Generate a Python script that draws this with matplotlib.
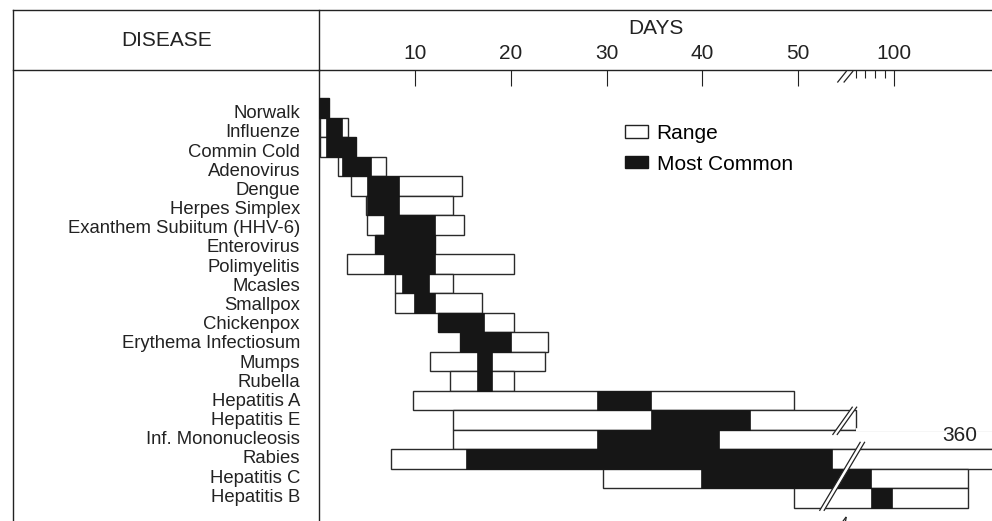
import numpy as np
import matplotlib
matplotlib.use("Agg")
import matplotlib.pyplot as plt
from matplotlib.patches import Patch, Polygon
from matplotlib.lines import Line2D

plt.rcParams['font.family'] = ['Liberation Sans', 'DejaVu Sans']

# ---------------- data (days) ----------------
diseases = ["Norwalk", "Influenze", "Commin Cold", "Adenovirus", "Dengue",
            "Herpes Simplex", "Exanthem Subiitum (HHV-6)", "Enterovirus",
            "Polimyelitis", "Mcasles", "Smallpox", "Chickenpox",
            "Erythema Infectiosum", "Mumps", "Rubella", "Hepatitis A",
            "Hepatitis E", "Inf. Mononucleosis", "Rabies", "Hepatitis C",
            "Hepatitis B"]
range_start = [0.0, 0.1, 0.1, 1.9, 3.3, 4.9, 5.0, 5.8, 2.9, 7.9, 7.9, 12.4,
               14.7, 11.55, 13.6, 9.8, 14.0, 14.0, 7.45, 29.6, 49.5]
range_end = [1.0, 3.0, 3.8, 7.0, 14.9, 14.0, 15.1, 12.1, 20.35, 14.0, 17.0,
             20.35, 23.9, 23.6, 20.35, 49.5, 60.0, 360.0, 360.0, 177.5, 177.5]
common_start = [0.0, 0.75, 0.75, 2.4, 5.0, 5.0, 6.75, 5.8, 6.75, 8.6, 9.9,
                12.4, 14.7, 16.5, 16.5, 29.0, 34.6, 29.0, 15.3, 39.8, 75.6]
common_end = [1.0, 2.4, 3.8, 5.4, 8.3, 8.3, 12.1, 12.1, 12.1, 11.45, 12.1,
              17.2, 20.0, 18.0, 18.0, 34.6, 45.0, 41.75, 53.5, 75.6, 97.5]
major_ticks = [10, 20, 30, 40, 50, 100]
minor_ticks = [60, 70, 80, 90]
rabies_max_label = "360"
break_day = 54.9

# ---------------- broken axis scale ----------------
def fwd(d):
    d = np.asarray(d, dtype=float)
    return np.where(d <= 55, d, 50 + d / 10.0)

def inv(u):
    u = np.asarray(u, dtype=float)
    return np.where(u <= 55, u, np.where(u < 55.5, 55.0, (u - 50) * 10.0))

W, H = 992, 521
fig = plt.figure(figsize=(W / 100, H / 100), dpi=100)

def fx(x):
    return x / W

def fy(y):
    return 1 - y / H

ax_left, ax_top = 319.3, 70
ax = fig.add_axes([fx(ax_left), 0, 1 - fx(ax_left), fy(ax_top)])
ax.set_xscale('function', functions=(fwd, inv))
xmax_day = 202.2
ax.set_xlim(0, xmax_day)
ax.set_ylim(21.18, -1.936)

fill_black = '#161616'
edge = '#2a2a2a'
y = np.arange(len(diseases))
rs, re_ = np.array(range_start), np.array(range_end)
cs, ce = np.array(common_start), np.array(common_end)
ax.barh(y, re_ - rs, left=rs, height=1.0, color='white', edgecolor=edge,
        linewidth=1.0, zorder=2)
# Inf. Mononucleosis box is left open above, past the Hepatitis E box
i_mono = diseases.index("Inf. Mononucleosis")
i_hepe = diseases.index("Hepatitis E")
ax.hlines(i_mono - 0.5, range_end[i_hepe] + 0.6, xmax_day * 1.2, color='white',
          lw=2.6, zorder=2.5, capstyle='butt')
ax.barh(y, ce - cs, left=cs, height=1.0, color=fill_black,
        edgecolor=fill_black, linewidth=0.5, zorder=3)

# break bands through bars
def band(u_top, r_top, u_bot, r_bot, half=0.23):
    pts_u = [u_top - half, u_top + half, u_bot + half, u_bot - half]
    pts_r = [r_top, r_top, r_bot, r_bot]
    xs = inv(pts_u)
    ax.add_patch(Polygon(np.column_stack([xs, pts_r]), closed=True,
                         facecolor='white', edgecolor='none', zorder=4))
    for s in (-half, half):
        ax.plot(inv([u_top + s, u_bot + s]), [r_top, r_bot], color='#222',
                lw=0.9, zorder=5, solid_capstyle='butt')

band(break_day + 1.0, 15.32, break_day - 1.1, 16.77)
band(break_day + 1.82, 17.12, break_day - 2.46, 20.66)
# small break marks on top axis and bottom edge
for (ut, rt, ub, rb, s) in [(break_day + 0.45, -1.86, break_day - 0.45, -1.32, 0.33),
                            (break_day + 0.3, 21.0, break_day - 0.3, 21.4, 0.25)]:
    for sg in (-s, s):
        ax.plot(inv([ut + sg, ub + sg]), [rt, rb], color='#222', lw=0.9,
                zorder=5, clip_on=False)

# axes styling
for side in ('right', 'bottom'):
    ax.spines[side].set_visible(False)
for side in ('left', 'top'):
    ax.spines[side].set_linewidth(1.0)
    ax.spines[side].set_color('#222')
ax.xaxis.tick_top()
ax.set_xticks(major_ticks)
ax.set_xticklabels([str(t) for t in major_ticks])
ax.set_xticks(minor_ticks, minor=True)
ax.tick_params(axis='x', which='major', direction='in', length=11.5,
               width=0.8, labelsize=15, pad=5, colors='#222')
ax.tick_params(axis='x', which='minor', direction='in', length=6,
               width=0.8, colors='#222')
ax.xaxis.set_label_position('top')
ax.set_xlabel('DAYS', fontsize=15, labelpad=7.5, color='#222')

label_shift = 0.2          # labels sit slightly lower than the bar centres
label_pitch = 19.17 / 19.5
ax.set_yticks(label_shift + y * label_pitch)
ax.set_yticklabels(diseases, fontsize=13.3, color='#222')
ax.tick_params(axis='y', length=0, pad=13.9)

ax.annotate(rabies_max_label, xy=(1.0, 18), xycoords=('axes fraction', 'data'),
            xytext=(-10.8, 17), textcoords='offset points', ha='right',
            va='center', fontsize=15, color='#222', zorder=6)

# legend
handles = [Patch(facecolor='white', edgecolor='#222', linewidth=1.0),
           Patch(facecolor=fill_black, edgecolor=fill_black)]
fig.legend(handles, ['Range', 'Most Common'], loc='upper left',
           bbox_to_anchor=(fx(625), fy(124)), frameon=False, fontsize=15,
           handlelength=1.1, handleheight=0.53, handletextpad=0.42,
           labelspacing=0.56, borderpad=0, borderaxespad=0)

# header frame
lc = '#222'
for (x0, y0, x1, y1) in [(13, 10, W, 10), (13, 70, ax_left, 70),
                         (13, 10, 13, H), (ax_left, 10, ax_left, 70)]:
    fig.add_artist(Line2D([fx(x0), fx(x1)], [fy(y0), fy(y1)], color=lc,
                          lw=1.0, transform=fig.transFigure))
fig.text(fx(166.7), fy(40), 'DISEASE', ha='center', va='center',
         fontsize=15, color='#222')

fig.savefig('out.png', dpi=100)
